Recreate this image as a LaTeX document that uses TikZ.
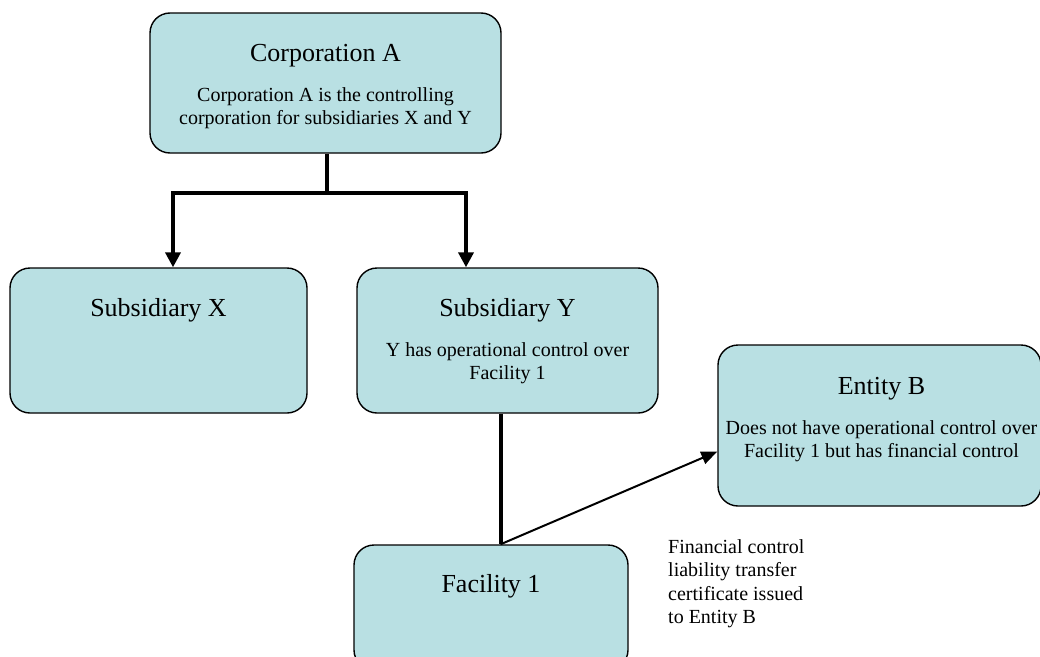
\documentclass[tikz,border=0pt]{standalone}
\usepackage{fontspec}
\setmainfont{Liberation Serif}
\usepackage{xcolor}
\usetikzlibrary{arrows.meta,positioning,calc}
\definecolor{boxfill}{RGB}{185,224,227}

\begin{document}
\begin{tikzpicture}[x=1pt,y=-1pt,>={Triangle[length=15pt,width=15pt]},
    orgbox/.style={rectangle, rounded corners=20pt, draw=black, fill=boxfill, line width=1.4pt},
    trunk/.style={line width=4pt}, thinline/.style={line width=2pt}]
  \tikzstyle{every node}=[inner sep=0pt]
  \tikzstyle{headtext}=[font=\fontsize{26}{30}\selectfont, anchor=base]
  \tikzstyle{bodytext}=[font=\fontsize{20}{23.5}\selectfont, align=center, anchor=north]

  \useasboundingbox (0,0) rectangle (1040,656);

  % boxes
  \node[orgbox, minimum width=351pt, minimum height=140pt] (corpA) at (325.5,83) {};
  \node[orgbox, minimum width=297pt, minimum height=145pt] (subX) at (158.5,340.5) {};
  \node[orgbox, minimum width=301pt, minimum height=145pt] (subY) at (507.5,340.5) {};
  \node[orgbox, minimum width=323pt, minimum height=161pt] (entB) at (879.5,425.5) {};
  \node[orgbox, minimum width=274pt, minimum height=125pt] (fac1) at (491,607.5) {};

  % texts
  \node[headtext] (corpAhead) at ([yshift=-49pt]corpA.north) {Corporation A};
  \node[bodytext] (corpAbody) at ([yshift=-75pt]corpA.north) {Corporation A is the controlling\\corporation for subsidiaries X and Y};
  \node[headtext] (subXhead) at ([yshift=-49pt]subX.north) {Subsidiary X};
  \node[headtext] (subYhead) at ([yshift=-49pt]subY.north) {Subsidiary Y};
  \node[bodytext] (subYbody) at ([yshift=-75pt]subY.north) {Y has operational control over\\Facility 1};
  \node[headtext] (entBhead) at ([xshift=2pt,yshift=-50pt]entB.north) {Entity B};
  \node[bodytext] (entBbody) at ([xshift=2pt,yshift=-76pt]entB.north) {Does not have operational control over\\Facility 1 but has financial control};
  \node[headtext] (fac1head) at ([yshift=-48pt]fac1.north) {Facility 1};
  \node[bodytext, align=left, anchor=north west] (note) at (668,539) {Financial control\\liability transfer\\certificate issued\\to Entity B};

  % connectors
  \coordinate (fork) at (327,193);
  \draw[trunk] (corpA.south -| fork) -- (fork);
  \draw[trunk,->] (fork) -| ([xshift=14.5pt]subX.north);
  \draw[trunk,->] (fork) -| ([xshift=-41.5pt]subY.north);
  \coordinate (foot) at ([xshift=9.5pt]fac1.north);
  \draw[trunk] (subY.south -| foot) -- (foot);
  \draw[thinline,-{Triangle[length=16pt,width=13pt]}] (foot) -- ([yshift=-26pt]entB.west);
\end{tikzpicture}
\end{document}
